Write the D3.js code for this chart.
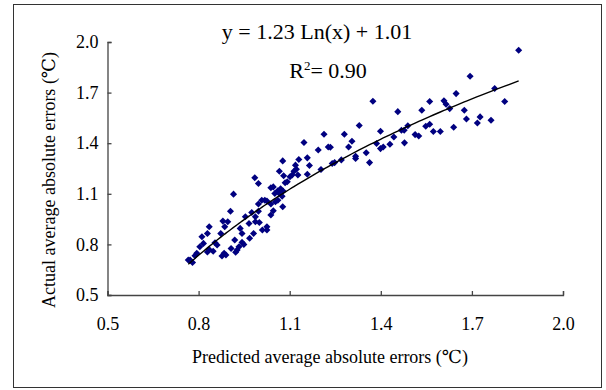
<!DOCTYPE html>
<html>
<head>
<meta charset="utf-8">
<script src="https://cdn.jsdelivr.net/npm/d3@7"></script>
<style>
  body { margin: 0; background: #fff; }
  svg { display: block; font-family: "Liberation Serif", "DejaVu Serif", serif; }
</style>
</head>
<body>
<svg id="chart" width="606" height="390"></svg>
<script>
(function(){
    // predicted (x) and actual (y) average absolute errors
    var predicted = [1.854,1.694,1.775,1.808,1.648,1.763,1.727,1.718,1.675,1.682,
        1.640,1.627,1.608,1.615,1.561,1.535,1.548,1.561,1.573,1.596,
        1.513,1.525,1.489,1.477,1.468,1.456,1.478,1.443,1.430,1.399,
        1.399,1.408,1.386,1.374,1.352,1.363,1.329,1.305,1.294,1.317,
        1.317,1.280,1.270,1.240,1.248,1.234,1.227,1.213,1.194,1.203,
        1.158,1.165,1.158,1.147,1.130,1.119,1.122,1.127,1.114,1.108,
        1.101,1.092,1.077,1.080,1.085,1.066,1.070,1.078,1.066,1.075,
        1.061,1.077,1.051,1.038,1.046,1.061,1.053,1.046,1.025,1.018,
        1.008,1.038,1.038,1.025,1.025,1.010,0.997,0.997,0.985,0.997,
        0.987,0.987,1.000,0.975,0.981,0.966,0.968,0.954,0.943,0.937,
        0.949,0.943,0.933,0.922,0.927,0.919,0.915,0.905,0.907,0.896,
        0.886,0.880,0.873,0.890,0.877,0.884,0.861,0.854,0.848,0.835,
        0.829,0.835,0.829,0.811,0.816,0.804,0.794,0.788,0.766,0.772,
        0.780];
    var actual = [1.951,1.797,1.724,1.647,1.694,1.536,1.556,1.520,1.595,1.544,
        1.495,1.605,1.651,1.631,1.647,1.595,1.501,1.512,1.469,1.469,
        1.451,1.443,1.503,1.477,1.477,1.587,1.402,1.437,1.394,1.471,
        1.368,1.378,1.398,1.649,1.343,1.285,1.505,1.412,1.378,1.323,
        1.309,1.453,1.301,1.280,1.285,1.376,1.378,1.453,1.360,1.244,
        1.313,1.268,1.216,1.404,1.303,1.270,1.246,1.211,1.234,1.211,
        1.201,1.171,1.295,1.207,1.165,1.234,1.130,1.116,1.102,1.086,
        1.062,1.023,1.102,1.136,1.141,1.118,1.053,0.999,1.057,1.062,
        1.062,1.039,0.974,0.885,0.905,0.885,1.039,1.161,1.195,0.997,
        0.964,0.934,0.930,0.989,0.865,0.924,0.836,0.964,0.865,0.895,
        0.800,0.812,0.786,0.753,0.767,0.826,1.098,0.997,0.776,0.934,
        0.905,0.938,0.865,0.737,0.731,0.747,0.796,0.810,0.759,0.905,
        0.865,0.769,0.755,0.845,0.806,0.786,0.747,0.733,0.707,0.707,
        0.693];

    var xTicks = [0.5, 0.8, 1.1, 1.4, 1.7, 2.0];
    var yTicks = [0.5, 0.8, 1.1, 1.4, 1.7, 2.0];

    // logarithmic trend: y = a Ln(x) + b
    var trendA = 1.23, trendB = 1.01, rSquared = 0.90;

    var svg = d3.select('#chart');

    // outer frame
    svg.append('rect')
        .attr('x', 13.5).attr('y', 4.5)
        .attr('width', 588).attr('height', 383)
        .attr('fill', '#fff')
        .attr('stroke', '#333')
        .attr('stroke-width', 1);

    var x = d3.scaleLinear().domain([0.5, 2.0]).range([107.5, 563]);
    var y = d3.scaleLinear().domain([0.5, 2.0]).range([295, 42]);

    var xAxis = svg.append('g')
        .attr('transform', 'translate(0,295)')
        .call(d3.axisBottom(x)
            .tickValues(xTicks)
            .tickFormat(d3.format('.1f'))
            .tickSize(-4)
            .tickPadding(22));

    var yAxis = svg.append('g')
        .attr('transform', 'translate(107.5,0)')
        .call(d3.axisLeft(y)
            .tickValues(yTicks)
            .tickFormat(d3.format('.1f'))
            .tickSize(-4)
            .tickPadding(9));

    [xAxis, yAxis].forEach(function(a){
        a.select('.domain').attr('stroke', '#444').attr('stroke-width', 1.3);
        a.selectAll('.tick line').attr('stroke', '#444').attr('stroke-width', 1.3);
        a.selectAll('.tick text')
            .attr('fill', '#000')
            .style('font-family', '"Liberation Serif", serif')
            .style('font-size', '18px');
    });

    // data points (diamonds)
    var pts = predicted.map(function(d, i){ return {x: d, y: actual[i]}; });
    var diamond = d3.symbol().type(d3.symbolSquare).size(25);
    svg.append('g').selectAll('path')
        .data(pts)
        .enter().append('path')
        .attr('d', diamond)
        .attr('fill', '#000080')
        .attr('transform', function(d){
            return 'translate(' + x(d.x) + ',' + y(d.y) + ') rotate(45)';
        });

    // trend line, drawn through the sorted x values of the data
    var xs = predicted.slice().sort(d3.ascending);
    svg.append('path')
        .datum(xs)
        .attr('fill', 'none')
        .attr('stroke', '#000')
        .attr('stroke-width', 1.4)
        .attr('d', d3.line()
            .x(function(d){ return x(d); })
            .y(function(d){ return y(trendA * Math.log(d) + trendB); }));

    // equation
    svg.append('text')
        .attr('x', 317).attr('y', 39)
        .attr('text-anchor', 'middle')
        .style('font-size', '22px')
        .text('y = ' + trendA.toFixed(2) + ' Ln(x) + ' + trendB.toFixed(2));

    var r2 = svg.append('text')
        .attr('x', 328).attr('y', 78)
        .attr('text-anchor', 'middle')
        .style('font-size', '22px');
    r2.append('tspan').text('R');
    r2.append('tspan').attr('dy', -8).style('font-size', '13px').text('2');
    r2.append('tspan').attr('dy', 8).text('= ' + rSquared.toFixed(2));

    // axis titles
    svg.append('text')
        .attr('x', 330).attr('y', 363)
        .attr('text-anchor', 'middle')
        .style('font-size', '18px')
        .text('Predicted average absolute errors (\u2103)');

    svg.append('text')
        .attr('transform', 'translate(55,180) rotate(-90)')
        .attr('text-anchor', 'middle')
        .style('font-size', '18px')
        .text('Actual average absolute errors (\u2103)');
})();
</script>
</body>
</html>
